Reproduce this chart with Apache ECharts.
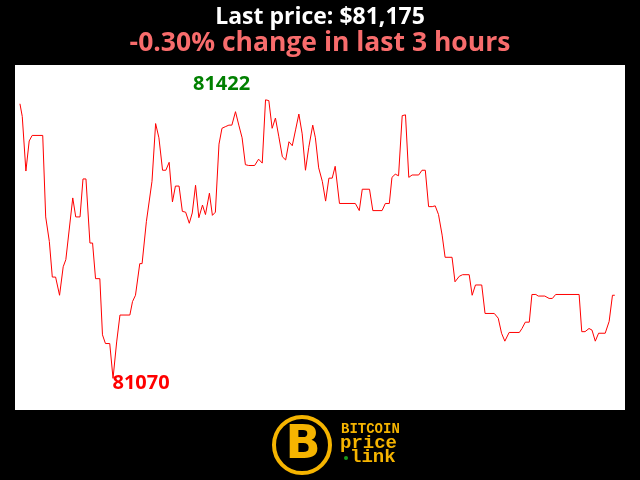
<!DOCTYPE html>
<html>
<head>
<meta charset="utf-8">
<script src="https://cdn.jsdelivr.net/npm/echarts@6/dist/echarts.min.js"></script>
<style>
html,body{margin:0;padding:0;background:#000;}
#chart{width:640px;height:480px;}
</style>
</head>
<body>
<div id="chart"></div>
<script>
// minutes since start of the 3-hour window
const minutes = [0,0.7,1.8,2.8,3.7,6.9,7.8,8.9,9.8,10.8,12.0,13.1,13.9,16.0,16.9,18.2,19.1,20.0,21.2,22.0,
22.9,24.2,25.0,25.9,27.2,28.2,29.3,30.3,33.3,34.1,35.0,36.3,37.0,38.3,40.0,41.1,42.1,43.2,44.2,45.2,
46.2,47.1,48.2,49.2,50.2,51.3,52.2,53.2,54.2,55.3,56.2,57.4,58.3,59.2,60.3,61.2,62.2,63.3,64.2,65.3,
66.3,67.3,68.3,69.3,71.1,72.3,73.4,74.4,75.4,76.4,77.4,78.4,79.5,80.5,81.5,82.5,83.5,84.5,85.5,86.5,
87.5,88.7,89.5,90.5,91.6,92.6,93.6,94.6,95.5,96.8,101.6,102.8,103.7,105.9,106.9,109.7,110.7,111.9,112.7,113.7,
114.7,115.8,116.8,117.8,118.8,120.8,121.8,122.8,123.8,124.9,125.8,126.8,127.9,128.8,130.9,131.8,133.1,134.1,136.1,137.0,
138.0,139.9,140.9,143.7,144.9,145.9,146.9,148.2,151.3,152.1,153.1,154.3,155.1,156.3,157.0,159.0,160.3,161.3,162.3,169.4,
170.2,171.2,172.4,173.3,174.3,175.3,177.3,178.5,179.5,180.2];
// BTC price (USD)
const prices = [81417,81401,81332,81370,81377,81377,81274,81243,81198,81198,81175,81211,81220,81298,81274,81274,81322,81322,81241,81241,
81196,81196,81125,81114,81114,81070,81116,81150,81150,81167,81175,81215,81215,81268,81319,81392,81374,81333,81333,81343,
81293,81313,81313,81281,81280,81266,81279,81314,81273,81289,81277,81304,81276,81280,81366,81386,81388,81390,81390,81407,
81390,81374,81340,81339,81339,81347,81342,81422,81421,81386,81399,81376,81350,81346,81369,81364,81384,81404,81379,81333,
81362,81390,81374,81336,81319,81294,81323,81323,81338,81291,81291,81282,81309,81309,81282,81282,81291,81291,81324,81328,
81326,81402,81403,81324,81327,81327,81333,81333,81287,81287,81288,81277,81251,81223,81223,81192,81199,81201,81201,81175,
81188,81188,81152,81152,81146,81127,81117,81128,81128,81133,81141,81141,81176,81176,81174,81174,81171,81171,81176,81176,
81129,81129,81133,81131,81117,81127,81127,81142,81175,81175];

const titleText = 'Last price: $81,175';
const subtitleText = '-0.30% change in last 3 hours';

const chart = echarts.init(document.getElementById('chart'), null, {renderer:'canvas'});
const gold = '#f5b400';
chart.setOption({
  backgroundColor: '#000',
  animation: false,
  title: [
    {text: titleText, left: 'center', top: 1, textStyle: {color: '#fff', fontFamily: 'Open Sans', fontWeight: 'bold', fontSize: 23}},
    {text: subtitleText, left: 'center', top: 25, textStyle: {color: '#f86c6c', fontFamily: 'Open Sans', fontWeight: 'bold', fontSize: 26.5}}
  ],
  grid: {left: 15, right: 15, top: 65, bottom: 70, show: true, backgroundColor: '#fff', borderWidth: 0},
  xAxis: {type: 'value', min: -1.5, max: 183.3, show: false},
  yAxis: {type: 'value', min: 81030, max: 81466, show: false},
  series: [{
    type: 'line',
    data: minutes.map((m, i) => [m, prices[i]]),
    symbol: 'none',
    lineStyle: {color: '#ff0000', width: 1},
    markPoint: {
      symbol: 'circle', symbolSize: 0,
      data: [
        {type: 'max', label: {color: '#008000', offset: [-44, -16]}},
        {type: 'min', label: {color: '#ff0000', offset: [28, 5]}}
      ],
      label: {show: true, position: 'inside', fontFamily: 'Open Sans', fontWeight: 'bold', fontSize: 20, formatter: p => String(p.value)}
    }
  }],
  graphic: [
    {type: 'circle', shape: {cx: 302, cy: 445, r: 28}, style: {fill: 'none', stroke: gold, lineWidth: 4}},
    {type: 'text', x: 303, y: 446, style: {text: 'B', fill: gold, font: 'bold 46px "DejaVu Sans"', textAlign: 'center', textVerticalAlign: 'middle'}},
    {type: 'text', x: 341, y: 429, style: {text: 'BITCOIN', fill: gold, font: 'bold 14px "Liberation Mono"', textVerticalAlign: 'middle'}},
    {type: 'text', x: 340, y: 443, style: {text: 'price', fill: gold, font: 'bold 19px "Liberation Mono"', textVerticalAlign: 'middle'}},
    {type: 'circle', shape: {cx: 346, cy: 458, r: 2}, style: {fill: '#1a9a1a'}},
    {type: 'text', x: 350, y: 457, style: {text: 'link', fill: gold, font: 'bold 19px "Liberation Mono"', textVerticalAlign: 'middle'}}
  ]
});
</script>
</body>
</html>
